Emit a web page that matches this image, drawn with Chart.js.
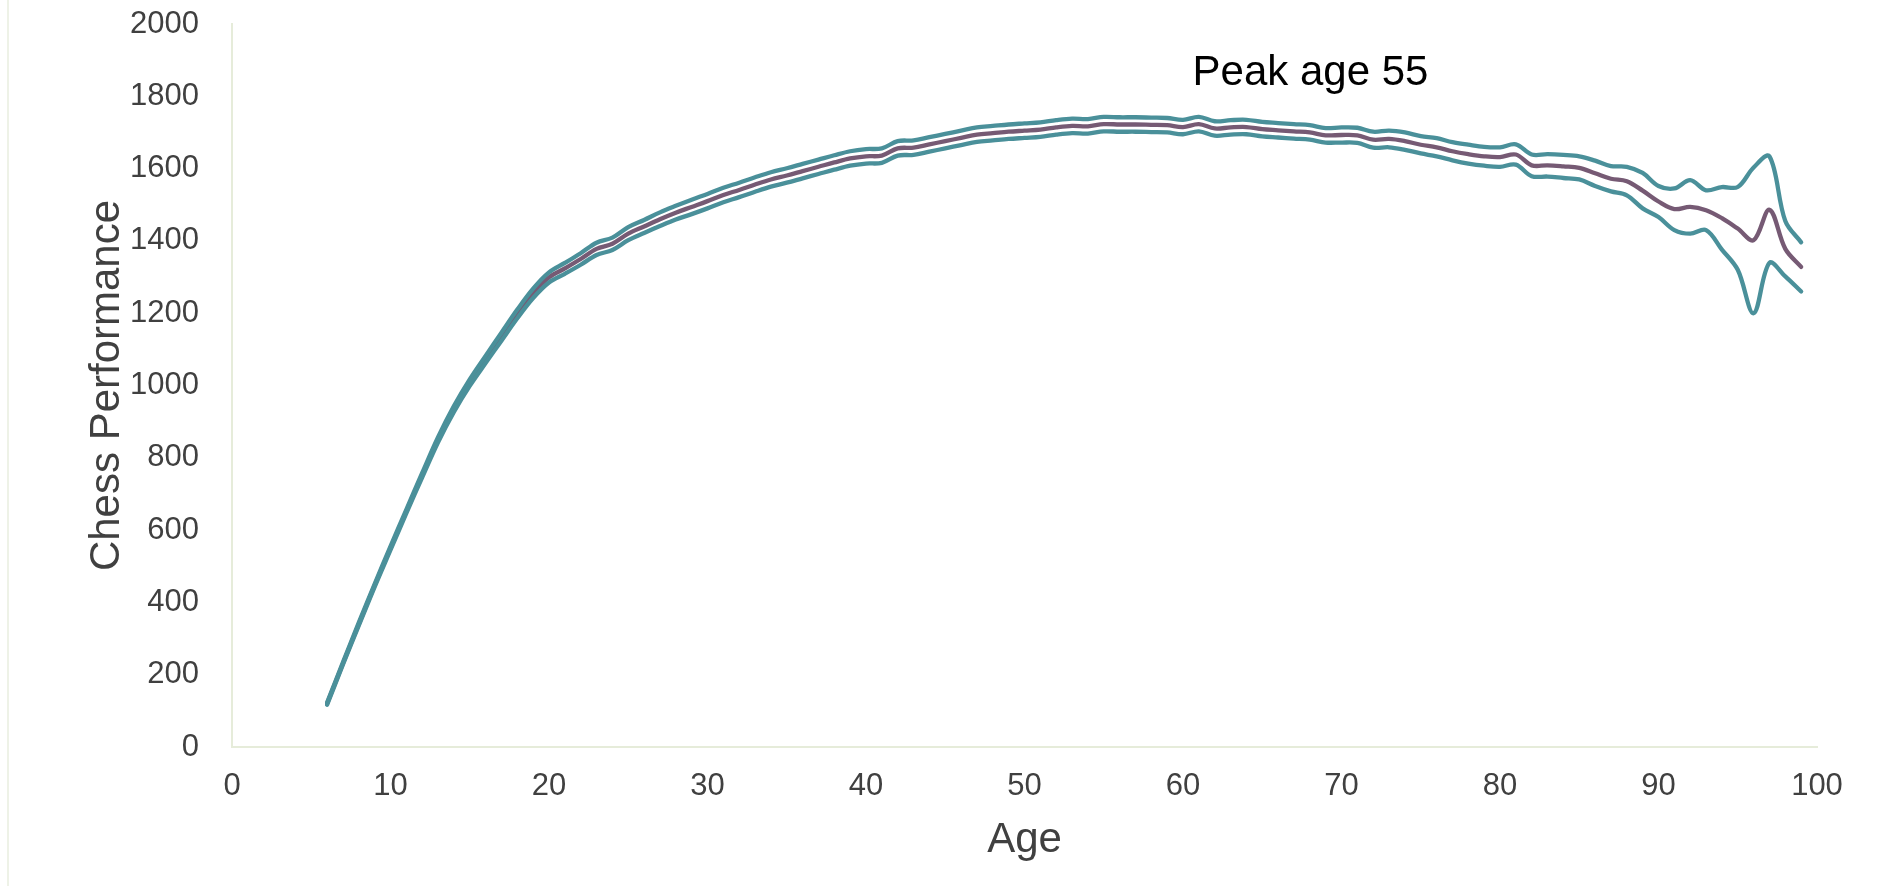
<!DOCTYPE html>
<html>
<head>
<meta charset="utf-8">
<script src="https://cdn.jsdelivr.net/npm/chart.js@4/dist/chart.umd.min.js"></script>
<style>
  html, body { margin: 0; padding: 0; background: #ffffff; }
  #wrap { width: 1883px; height: 886px; position: relative; }
</style>
</head>
<body>
<div id="wrap"><canvas id="chart" width="1883" height="886"></canvas></div>
<script>
// Age in years
const ages = [6, 7, 8, 9, 10, 11, 12, 13, 14, 15, 16, 17, 18, 19, 20, 21, 22, 23, 24, 25,
  26, 27, 28, 29, 30, 31, 32, 33, 34, 35, 36, 37, 38, 39, 40, 41, 42, 43, 44, 45,
  46, 47, 48, 49, 50, 51, 52, 53, 54, 55, 56, 57, 58, 59, 60, 61, 62, 63, 64, 65,
  66, 67, 68, 69, 70, 71, 72, 73, 74, 75, 76, 77, 78, 79, 80, 81, 82, 83, 84, 85,
  86, 87, 88, 89, 90, 91, 92, 93, 94, 95, 96, 97, 98, 99];

// Estimated performance at each age
const performance = [120, 231, 340, 447, 550, 652, 752, 850, 935, 1008, 1072, 1135, 1198, 1255, 1299, 1324, 1350, 1378, 1392, 1420,
  1440, 1460, 1478, 1494, 1510, 1527, 1541, 1556, 1570, 1581, 1593, 1605, 1617, 1628, 1634, 1636, 1656, 1658, 1667, 1676,
  1685, 1694, 1698, 1702, 1705, 1708, 1714, 1718, 1717, 1723, 1722, 1722, 1721, 1720, 1715, 1723, 1711, 1714, 1715, 1709,
  1706, 1703, 1700, 1692, 1693, 1692, 1680, 1682, 1676, 1666, 1659, 1648, 1640, 1634, 1632, 1639, 1609, 1609, 1606, 1602,
  1587, 1572, 1565, 1539, 1509, 1488, 1494, 1485, 1463, 1434, 1402, 1486, 1378, 1328];

// Upper bound of the interval
const upperBound = [123, 234, 344, 451, 555, 657, 758, 857, 943, 1017, 1082, 1146, 1210, 1268, 1313, 1339, 1366, 1395, 1409, 1438,
  1458, 1479, 1497, 1514, 1530, 1547, 1561, 1576, 1590, 1601, 1613, 1625, 1637, 1648, 1654, 1656, 1676, 1678, 1687, 1696,
  1705, 1714, 1718, 1722, 1725, 1728, 1734, 1738, 1737, 1743, 1742, 1742, 1741, 1740, 1735, 1743, 1731, 1734, 1735, 1729,
  1726, 1723, 1720, 1712, 1714, 1713, 1702, 1705, 1700, 1690, 1684, 1673, 1666, 1660, 1659, 1667, 1639, 1640, 1638, 1634,
  1622, 1607, 1605, 1588, 1552, 1545, 1568, 1540, 1549, 1549, 1603, 1634, 1455, 1396];

// Lower bound of the interval
const lowerBound = [117, 228, 336, 443, 545, 647, 746, 843, 927, 999, 1062, 1124, 1186, 1242, 1285, 1309, 1334, 1361, 1375, 1402,
  1422, 1441, 1459, 1474, 1490, 1507, 1521, 1536, 1550, 1561, 1573, 1585, 1597, 1608, 1614, 1616, 1636, 1638, 1647, 1656,
  1665, 1674, 1678, 1682, 1685, 1688, 1694, 1698, 1697, 1703, 1702, 1702, 1701, 1700, 1695, 1703, 1691, 1694, 1695, 1689,
  1686, 1683, 1680, 1672, 1672, 1671, 1658, 1659, 1652, 1642, 1634, 1623, 1614, 1608, 1605, 1611, 1579, 1578, 1574, 1570,
  1552, 1537, 1526, 1490, 1466, 1430, 1420, 1430, 1376, 1320, 1200, 1339, 1302, 1260];

// Axis ranges and tick spacing
const xRange = [0, 100];
const xStep = 10;
const yRange = [0, 2000];
const yStep = 200;

// Annotation text and where it sits (in axis units)
const peakLabel = 'Peak age 55';
const peakLabelAt = { age: 60.6, value: 1830 };

const FONT = "'Liberation Sans', Arial, Helvetica, sans-serif";
const TEXT = '#404040';
const TEAL = '#4a909a';
const PLUM = '#765a74';
const AXIS_LINE = '#e6ecda';

const toPoints = (vals) => ages.map((a, i) => ({ x: a, y: vals[i] }));
const plainNumber = (v) => String(v);

const pagePlugin = {
  id: 'page',
  beforeDraw(chart) {
    const { ctx, width, height } = chart;
    ctx.save();
    ctx.fillStyle = '#ffffff';
    ctx.fillRect(0, 0, width, height);
    ctx.strokeStyle = '#eef2e7';
    ctx.lineWidth = 2;
    ctx.beginPath();
    ctx.moveTo(8, 0);
    ctx.lineTo(8, height);
    ctx.stroke();
    ctx.restore();
  }
};

const peakPlugin = {
  id: 'peakLabel',
  afterDatasetsDraw(chart) {
    const { ctx, scales } = chart;
    ctx.save();
    ctx.font = '42px ' + FONT;
    ctx.fillStyle = '#000000';
    ctx.textAlign = 'left';
    ctx.textBaseline = 'alphabetic';
    ctx.fillText(peakLabel, scales.x.getPixelForValue(peakLabelAt.age), scales.y.getPixelForValue(peakLabelAt.value));
    ctx.restore();
  }
};

const lineStyle = (color, order) => ({
  borderColor: color,
  backgroundColor: color,
  borderWidth: 4.3,
  pointRadius: 0,
  pointHoverRadius: 0,
  tension: 0.35,
  fill: false,
  order: order,
  borderCapStyle: 'round',
  borderJoinStyle: 'round'
});

new Chart(document.getElementById('chart'), {
  type: 'line',
  data: {
    datasets: [
      Object.assign({ label: 'Performance', data: toPoints(performance) }, lineStyle(PLUM, 2)),
      Object.assign({ label: 'Upper', data: toPoints(upperBound) }, lineStyle(TEAL, 1)),
      Object.assign({ label: 'Lower', data: toPoints(lowerBound) }, lineStyle(TEAL, 0))
    ]
  },
  options: {
    responsive: false,
    devicePixelRatio: 1,
    animation: false,
    layout: { padding: { top: 24, right: 66, bottom: 0, left: 0 } },
    plugins: {
      legend: { display: false },
      tooltip: { enabled: false }
    },
    scales: {
      x: {
        type: 'linear',
        min: xRange[0],
        max: xRange[1],
        ticks: {
          stepSize: xStep,
          color: TEXT,
          font: { family: FONT, size: 31 },
          padding: 13,
          maxRotation: 0,
          callback: plainNumber
        },
        grid: { display: false },
        border: { display: true, color: AXIS_LINE, width: 2 },
        title: {
          display: true,
          text: 'Age',
          color: TEXT,
          font: { family: FONT, size: 42 },
          padding: { top: 0, bottom: 20 }
        },
        afterFit(scale) {
          scale.height = 139;
          scale.paddingLeft = 0;
          scale.paddingRight = 0;
        }
      },
      y: {
        type: 'linear',
        min: yRange[0],
        max: yRange[1],
        ticks: {
          stepSize: yStep,
          color: TEXT,
          font: { family: FONT, size: 31 },
          padding: 25,
          callback: plainNumber
        },
        grid: { display: false },
        border: { display: true, color: AXIS_LINE, width: 2 },
        title: {
          display: true,
          text: 'Chess Performance',
          color: TEXT,
          font: { family: FONT, size: 42 },
          padding: { top: 82, bottom: 0 }
        },
        afterFit(scale) {
          scale.width = 232;
          scale.paddingTop = 0;
          scale.paddingBottom = 0;
        }
      }
    }
  },
  plugins: [pagePlugin, peakPlugin]
});
</script>
</body>
</html>
